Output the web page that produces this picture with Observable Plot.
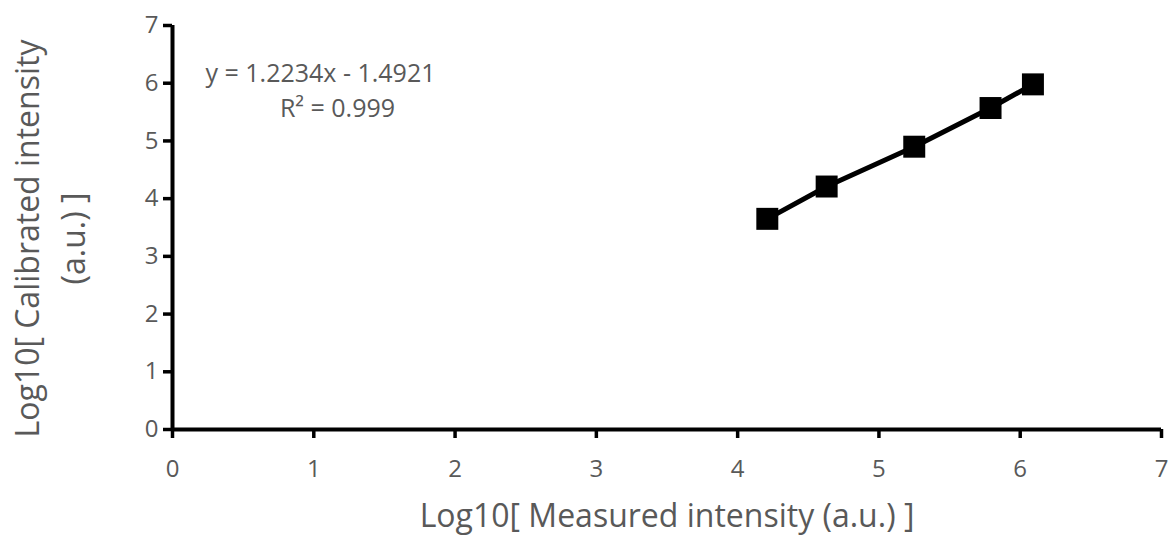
<!DOCTYPE html>
<html>
<head>
<meta charset="utf-8">
<script src="https://cdn.jsdelivr.net/npm/d3@7"></script>
<script src="https://cdn.jsdelivr.net/npm/@observablehq/plot@0.6"></script>
<style>
  html, body { margin: 0; padding: 0; background: #fff; }
  #chart svg { display: block; }
</style>
</head>
<body>
<div id="chart"></div>
<script>
const measured = [4.21, 4.63, 5.25, 5.79, 6.09];
const calibrated = [3.65, 4.21, 4.90, 5.57, 5.98];
const xTicks = [0, 1, 2, 3, 4, 5, 6, 7];
const yTicks = [0, 1, 2, 3, 4, 5, 6, 7];
const xTitle = "Log10[ Measured intensity (a.u.) ]";
const yTitleLines = ["Log10[ Calibrated intensity", "(a.u.) ]"];
const equation = "y = 1.2234x - 1.4921";
const rSquared = "R² = 0.999";

const data = measured.map((x, i) => ({x, y: calibrated[i]}));
const font = "'Open Sans', Lato, sans-serif";
const gray = "#595959";

const chart = Plot.plot({
  width: 1176,
  height: 539,
  marginLeft: 172,
  marginRight: 15,
  marginTop: 25,
  marginBottom: 110,
  style: {fontFamily: font, background: "#fff"},
  x: {domain: [0, 7]},
  y: {domain: [0, 7]},
  marks: [
    Plot.axisX({ticks: xTicks, tickFormat: "d", tickSize: 9, strokeWidth: 3.5, tickPadding: 21, fontSize: 24, color: gray, stroke: "black", label: null}),
    Plot.axisY({ticks: yTicks, tickFormat: "d", tickSize: 9, strokeWidth: 3.5, tickPadding: 5, fontSize: 24, color: gray, stroke: "black", label: null}),
    Plot.ruleY([0], {stroke: "black", strokeWidth: 4}),
    Plot.ruleX([0], {stroke: "black", strokeWidth: 4}),
    Plot.line(data, {x: "x", y: "y", stroke: "black", strokeWidth: 5}),
    Plot.dot(data, {x: "x", y: "y", symbol: "square", r: 12.4, fill: "black", stroke: "none"}),
    Plot.text([equation], {frameAnchor: "top-left", dx: 148, dy: 48, fontSize: 25, fill: gray, textAnchor: "middle", lineAnchor: "middle"}),
    Plot.text([rSquared], {frameAnchor: "top-left", dx: 165, dy: 83, fontSize: 25, fill: gray, textAnchor: "middle", lineAnchor: "middle"}),
    Plot.text([xTitle], {frameAnchor: "bottom", dy: 87, fontSize: 32, fill: gray, textAnchor: "middle", lineAnchor: "middle"}),
    Plot.text([yTitleLines[0]], {frameAnchor: "left", dx: -144, dy: 11, rotate: -90, fontSize: 32, fill: gray, textAnchor: "middle", lineAnchor: "middle"}),
    Plot.text([yTitleLines[1]], {frameAnchor: "left", dx: -98, dy: 11, rotate: -90, fontSize: 32, fill: gray, textAnchor: "middle", lineAnchor: "middle"})
  ]
});
document.getElementById("chart").appendChild(chart);
</script>
</body>
</html>
